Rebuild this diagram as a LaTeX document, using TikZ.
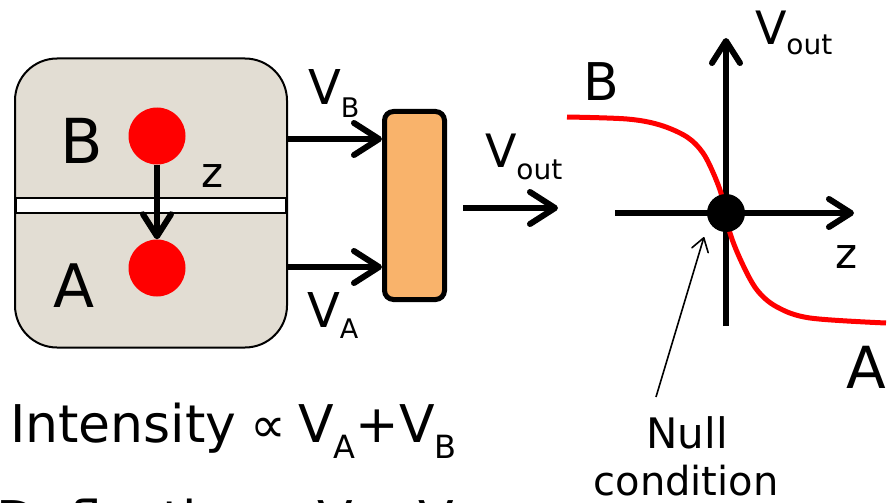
\documentclass[tikz,border=0pt]{standalone}
\usepackage{fontspec}
\setmainfont{DejaVu Sans}
\usetikzlibrary{arrows.meta}
\definecolor{boxfill}{HTML}{E2DDD3}
\definecolor{ampfill}{HTML}{F9B36B}
\newcommand\fs[1]{\fontsize{#1}{#1}\selectfont}
\tikzset{
  lbl/.style={inner sep=0pt, outer sep=0pt, anchor=base west},
  clbl/.style={inner sep=0pt, outer sep=0pt, anchor=base},
  bigarrow/.style={line width=6pt, -{Straight Barb[length=25pt,width=32pt,line cap=round,line join=round]}},
  midarrow/.style={line width=6pt, -{Straight Barb[length=22pt,width=28pt,line cap=round,line join=round]}},
  thinarrow/.style={line width=1.6pt, -{Straight Barb[length=13pt,width=17pt,line cap=round,line join=round]}},
}
\begin{document}
\begin{tikzpicture}[x=1pt,y=-1pt]
\useasboundingbox (0,0) rectangle (895,503);
\clip (0,0) rectangle (895,503);

% sensor box
\node[draw, line width=2pt, fill=boxfill, rounded corners=42pt,
      minimum width=272pt, minimum height=289pt, inner sep=0pt] (box) at (151,203) {};
\node[draw, line width=1.3pt, fill=white, minimum width=270pt, minimum height=15pt, inner sep=0pt] (strip) at (151,205.5) {};
\node[circle, fill=red, minimum size=57pt, inner sep=0pt] (cB) at (157,136) {};
\node[circle, fill=red, minimum size=57pt, inner sep=0pt] (cA) at (157,268) {};
\draw[midarrow] (cB.south) -- (cA.north);
\node[lbl] (lB) at (60,163) {\fs{62}B};
\node[lbl] (lA) at (53,307) {\fs{60}A};
\node[lbl] (lz) at (201,187) {\fs{42}z};

% amplifier
\node[draw, line width=5pt, fill=ampfill, rounded corners=9pt,
      minimum width=60pt, minimum height=188pt, inner sep=0pt] (amp) at (414.5,205.5) {};
\coordinate (vbs) at (287,139);
\coordinate (vas) at (287,267);
\draw[bigarrow] (vbs) -- (vbs -| amp.west);
\draw[bigarrow] (vas) -- (vas -| amp.west);
\node[lbl] (lVB) at (308,105) {\fs{48}V\raisebox{-13pt}{\fs{27}B}};
\node[lbl] (lVA) at (307,327) {\fs{48}V\raisebox{-11pt}{\fs{27}A}};

% output arrow
\coordinate (vo1) at (463,208);
\coordinate (vo2) at (558,208);
\draw[bigarrow] (vo1) -- (vo2);
\node[lbl] (lVo) at (485,167) {\fs{46}V\raisebox{-13pt}{\fs{28}out}};

% graph
\coordinate (O) at (726,213);
\coordinate (xl) at (615,213);
\coordinate (xr) at (854,213);
\coordinate (yb) at (726,326);
\coordinate (yt) at (726,38);
\draw[midarrow] (xl) -- (xr);
\draw[midarrow] (yb) -- (yt);
\draw[red, line width=5pt] plot[smooth, tension=0.55] coordinates {
 (567,117) (627,119) (660,125) (687,137) (703,153) (715,177) (723,200) (730,233)
 (742,263) (757,290) (777,307) (810,318) (886,323)};
\node[circle, fill=black, minimum size=38pt, inner sep=0pt] (dot) at (O) {};
\node[lbl] (gV) at (755,45) {\fs{46}V\raisebox{-10pt}{\fs{28}out}};
\node[lbl] (gB) at (583,100) {\fs{52}B};
\node[lbl] (gA) at (846,388) {\fs{58}A};
\node[lbl] (gz) at (835,268) {\fs{42}z};

% null condition
\coordinate (ns) at (656,397);
\coordinate (ne) at (704,237);
\draw[thinarrow] (ns) -- (ne);
\node[clbl] (null1) at (687,448) {\fs{42}Null};
\node[clbl] (null2) at (686,495) {\fs{40}condition};

% bottom formulas
\node[lbl] (inten) at (10,442) {\fs{52}Intensity\hspace{14pt}{\fs{50}∝}\hspace{12pt}V\raisebox{-16pt}{\fs{32}A}+V\raisebox{-16pt}{\fs{32}B}};
\node[lbl] (defl) at (-3,538) {\fs{52}Deflection\hspace{10pt}{\fs{50}∝}\hspace{10pt}V\raisebox{-16pt}{\fs{32}A}−V\raisebox{-16pt}{\fs{32}B}};
\end{tikzpicture}
\end{document}
